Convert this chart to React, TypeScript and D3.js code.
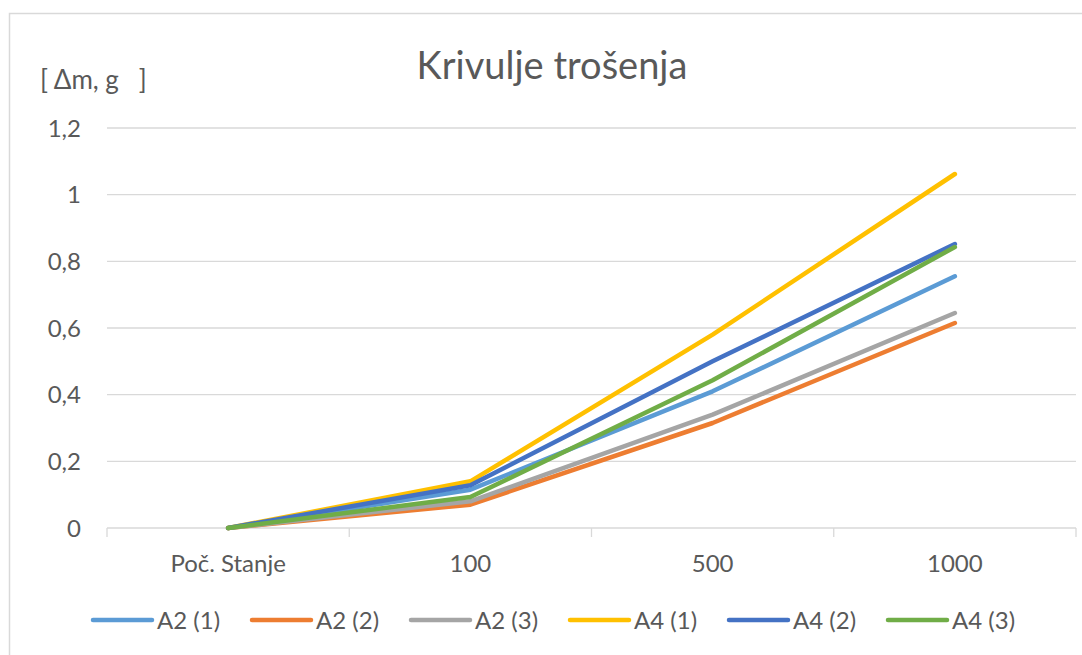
import { useEffect, useRef } from "react";
import * as d3 from "d3";

const categories = ["Poč. Stanje", "100", "500", "1000"];
const seriesNames = ["A2 (1)", "A2 (2)", "A2 (3)", "A4 (1)", "A4 (2)", "A4 (3)"];
const seriesColors = ["#5B9BD5", "#ED7D31", "#A5A5A5", "#FFC000", "#4472C4", "#70AD47"];
const a2_1 = [0, 0.115, 0.41, 0.755];
const a2_2 = [0, 0.07, 0.315, 0.615];
const a2_3 = [0, 0.08, 0.34, 0.645];
const a4_1 = [0, 0.14, 0.58, 1.062];
const a4_2 = [0, 0.128, 0.5, 0.852];
const a4_3 = [0, 0.093, 0.443, 0.843];
const yTicks = [0, 0.2, 0.4, 0.6, 0.8, 1, 1.2];

const seriesValues = [a2_1, a2_2, a2_3, a4_1, a4_2, a4_3];

const W = 1082;
const H = 655;
const FONT = "Lato, 'Noto Sans', sans-serif";
const TEXT = "#595959";
const GRID = "#d9d9d9";

const Chart = () => {
  const ref = useRef<SVGSVGElement>(null);

  useEffect(() => {
    const svg = d3.select(ref.current);
    svg.selectAll("*").remove();

    const margin = { left: 107, right: W - 1076, top: 128, bottom: H - 528 };

    // chart frame
    svg
      .append("rect")
      .attr("x", 9.5)
      .attr("y", 13.5)
      .attr("width", 1090)
      .attr("height", 700)
      .attr("fill", "#fff")
      .attr("stroke", GRID)
      .attr("stroke-width", 1.5);

    const x = d3
      .scaleBand<string>()
      .domain(categories)
      .range([margin.left, W - margin.right]);
    const y = d3
      .scaleLinear()
      .domain([0, 1.2])
      .range([H - margin.bottom, margin.top]);

    // gridlines
    svg
      .append("g")
      .selectAll("line")
      .data(yTicks)
      .enter()
      .append("line")
      .attr("x1", margin.left)
      .attr("x2", W - margin.right)
      .attr("y1", (d) => y(d))
      .attr("y2", (d) => y(d))
      .attr("stroke", GRID)
      .attr("stroke-width", 1.3);

    // category tick marks between bands
    const bounds = categories.map((c) => x(c) ?? 0).concat([W - margin.right]);
    svg
      .append("g")
      .selectAll("line")
      .data(bounds)
      .enter()
      .append("line")
      .attr("x1", (d) => d)
      .attr("x2", (d) => d)
      .attr("y1", y(0))
      .attr("y2", y(0) + 9)
      .attr("stroke", GRID)
      .attr("stroke-width", 1.3);

    // y tick labels
    svg
      .append("g")
      .selectAll("text")
      .data(yTicks)
      .enter()
      .append("text")
      .attr("x", 81)
      .attr("y", (d) => y(d) + 8.5)
      .attr("text-anchor", "end")
      .attr("fill", TEXT)
      .style("font-family", FONT)
      .style("font-size", "24px")
      .text((d) => d3.format("")(d).replace(".", ","));

    // category labels
    svg
      .append("g")
      .selectAll("text")
      .data(categories)
      .enter()
      .append("text")
      .attr("x", (d) => (x(d) ?? 0) + x.bandwidth() / 2)
      .attr("y", 572)
      .attr("text-anchor", "middle")
      .attr("fill", TEXT)
      .style("font-family", FONT)
      .style("font-size", "24px")
      .text((d) => d);

    // title
    svg
      .append("text")
      .attr("x", 552)
      .attr("y", 79)
      .attr("text-anchor", "middle")
      .attr("fill", TEXT)
      .style("font-family", FONT)
      .style("font-size", "38px")
      .text("Krivulje trošenja");

    // y unit label
    svg
      .append("text")
      .attr("x", 40)
      .attr("y", 89)
      .attr("fill", TEXT)
      .style("font-family", FONT)
      .style("font-size", "26px")
      .style("white-space", "pre")
      .text("[ Δm, g   ]");

    // series lines
    const line = d3
      .line<number>()
      .x((_, i) => (x(categories[i]) ?? 0) + x.bandwidth() / 2)
      .y((d) => y(d));

    svg
      .append("g")
      .selectAll("path")
      .data(seriesValues)
      .enter()
      .append("path")
      .attr("d", (d) => line(d))
      .attr("fill", "none")
      .attr("stroke", (_, i) => seriesColors[i])
      .attr("stroke-width", 4.5)
      .attr("stroke-linecap", "round")
      .attr("stroke-linejoin", "round");

    // legend
    const legend = svg
      .append("g")
      .selectAll("g")
      .data(seriesNames)
      .enter()
      .append("g")
      .attr("transform", (_, i) => `translate(${93 + i * 159},620)`);
    legend
      .append("line")
      .attr("x1", 0)
      .attr("x2", 59)
      .attr("stroke", (_, i) => seriesColors[i])
      .attr("stroke-width", 4.5)
      .attr("stroke-linecap", "round");
    legend
      .append("text")
      .attr("x", 64)
      .attr("y", 8.5)
      .attr("fill", TEXT)
      .style("font-family", FONT)
      .style("font-size", "24px")
      .text((d) => d);
  }, []);

  return (
    <svg
      ref={ref}
      width={W}
      height={H}
      style={{ position: "absolute", left: 0, top: 0, display: "block" }}
    />
  );
};

export default function App() {
  return <Chart />;
}
